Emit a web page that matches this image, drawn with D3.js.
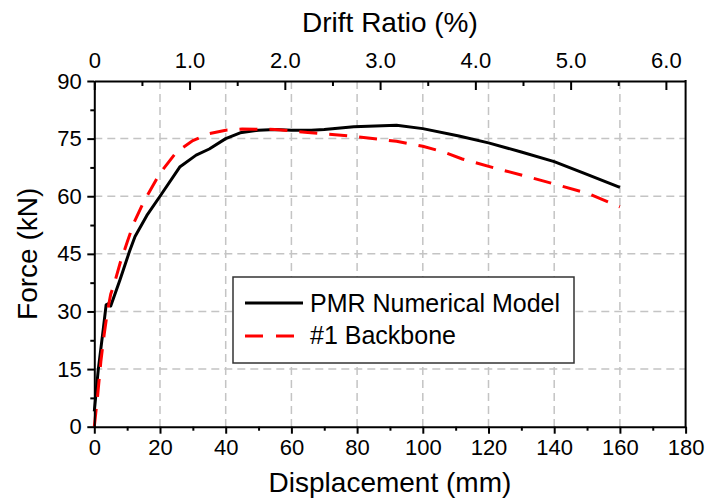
<!DOCTYPE html>
<html>
<head>
<meta charset="utf-8">
<script src="https://cdn.jsdelivr.net/npm/d3@7"></script>
<style>
  html, body { margin: 0; padding: 0; background: #fff; }
  svg { display: block; font-family: "Liberation Sans", Arial, sans-serif; }
</style>
</head>
<body>
<svg id="chart" width="709" height="500"></svg>
<script>
// ---- Data ----
const pmrDisp  = [0, 1.2, 2.7, 3.6, 4.5, 5.0, 7.8, 10.7, 12.4, 16, 20, 26, 31, 35, 40, 44.4, 50, 55, 60, 66, 70, 79, 92, 100, 111, 120, 130, 140, 149, 160];
const pmrForce = [4, 14.8, 25.2, 31.7, 32.1, 31.4, 38.2, 45.6, 49.5, 55, 60, 67.6, 70.7, 72.3, 75, 76.5, 77.2, 77.4, 77.2, 77.2, 77.4, 78.1, 78.5, 77.6, 75.7, 73.9, 71.5, 69, 66, 62.3];

const bbDisp  = [0, 1, 2, 3, 4, 5, 6, 8, 10, 12, 15, 20, 25, 30, 35, 40, 45, 55, 65, 80, 92, 100, 106, 112, 122, 131, 140, 150, 160];
const bbForce = [0, 8, 17, 24, 30, 34.5, 37, 43, 48, 53, 58.5, 66, 71.5, 74.5, 76.3, 77.2, 77.5, 77.4, 76.6, 75.5, 74.3, 73.0, 71.6, 69.7, 67.3, 65.3, 63.2, 60.8, 57.2];

const xTicks = [0, 20, 40, 60, 80, 100, 120, 140, 160, 180];
const xMinor = [10, 30, 50, 70, 90, 110, 130, 150, 170];
const yTicks = [0, 15, 30, 45, 60, 75, 90];
const yMinor = [7.5, 22.5, 37.5, 52.5, 67.5, 82.5];
const topTicks = [0, 1, 2, 3, 4, 5, 6];
const topMinor = [0.5, 1.5, 2.5, 3.5, 4.5, 5.5];
const topTickLabels = ["0", "1.0", "2.0", "3.0", "4.0", "5.0", "6.0"];
const xGrid = [20, 40, 60, 80, 100, 120, 140, 160];
const yGrid = [15, 30, 45, 60, 75];
const storyHeightMm = 2900; // drift ratio (%) = disp / H * 100

const seriesNames = ["PMR Numerical Model", "#1 Backbone"];

// ---- Layout ----
const L = 94.3, R = 685.6, T = 81, B = 426.7;
const svg = d3.select("#chart");

const x = d3.scaleLinear().domain([0, 180]).range([L, R]);
const y = d3.scaleLinear().domain([0, 90]).range([B, T]);
const xTop = d3.scaleLinear().domain([0, 180 / storyHeightMm * 100]).range([L, R]);

// ---- Grid ----
const grid = svg.append("g").attr("stroke", "#c4c4c4").attr("stroke-width", 1.5).attr("stroke-dasharray", "8,5");
grid.selectAll("line.v").data(xGrid).join("line")
  .attr("x1", d => x(d)).attr("x2", d => x(d)).attr("y1", T).attr("y2", B);
grid.selectAll("line.h").data(yGrid).join("line")
  .attr("y1", d => y(d)).attr("y2", d => y(d)).attr("x1", L).attr("x2", R);

// ---- Curves ----
const line = d3.line().x(d => x(d[0])).y(d => y(d[1]));
svg.append("path").datum(d3.zip(pmrDisp, pmrForce))
  .attr("d", line).attr("fill", "none").attr("stroke", "#000").attr("stroke-width", 3)
  .attr("stroke-linejoin", "round");
svg.append("path").datum(d3.zip(bbDisp, bbForce))
  .attr("d", line).attr("fill", "none").attr("stroke", "#ff0000").attr("stroke-width", 3)
  .attr("stroke-dasharray", "18,12");

// ---- Legend ----
const lg = svg.append("g");
lg.append("rect").attr("x", 233).attr("y", 277).attr("width", 341).attr("height", 86)
  .attr("fill", "#fff").attr("stroke", "#333").attr("stroke-width", 1.5);
lg.append("line").attr("x1", 245).attr("x2", 303).attr("y1", 303).attr("y2", 303)
  .attr("stroke", "#000").attr("stroke-width", 3);
lg.append("line").attr("x1", 245).attr("x2", 303).attr("y1", 336).attr("y2", 336)
  .attr("stroke", "#ff0000").attr("stroke-width", 3).attr("stroke-dasharray", "18,13");
lg.append("text").attr("x", 310).attr("y", 312).attr("font-size", 25).text(seriesNames[0]);
lg.append("text").attr("x", 310).attr("y", 344).attr("font-size", 25).text(seriesNames[1]);

// ---- Axes ----
function styleAxis(g) {
  g.select(".domain").attr("stroke-width", 2).attr("stroke", "#000");
  g.selectAll(".tick line").attr("stroke-width", 2).attr("stroke", "#000");
  g.selectAll("text").attr("font-size", 22).attr("fill", "#000").attr("font-family", "'Liberation Sans', Arial, sans-serif");
}

// bottom
const gb = svg.append("g").attr("transform", `translate(0,${B})`)
  .call(d3.axisBottom(x).tickValues(xTicks).tickSizeInner(7).tickSizeOuter(0).tickPadding(6).tickFormat(d3.format("d")));
styleAxis(gb);
svg.append("g").attr("transform", `translate(0,${B})`)
  .call(d3.axisBottom(x).tickValues(xMinor).tickSizeInner(4).tickSizeOuter(0).tickFormat(""))
  .call(g => { g.select(".domain").remove(); g.selectAll(".tick line").attr("stroke-width", 2); });

// left
const gl = svg.append("g").attr("transform", `translate(${L},0)`)
  .call(d3.axisLeft(y).tickValues(yTicks).tickSizeInner(7).tickSizeOuter(0).tickPadding(5.5).tickFormat(d3.format("d")));
styleAxis(gl);
svg.append("g").attr("transform", `translate(${L},0)`)
  .call(d3.axisLeft(y).tickValues(yMinor).tickSizeInner(4).tickSizeOuter(0).tickFormat(""))
  .call(g => { g.select(".domain").remove(); g.selectAll(".tick line").attr("stroke-width", 2); });

// top (ticks pointing inward)
const gt = svg.append("g").attr("transform", `translate(0,${T})`)
  .call(d3.axisTop(xTop).tickValues(topTicks).tickSizeInner(-9).tickSizeOuter(0).tickPadding(13)
    .tickFormat((d, i) => topTickLabels[i]));
styleAxis(gt);
svg.append("g").attr("transform", `translate(0,${T})`)
  .call(d3.axisTop(xTop).tickValues(topMinor).tickSizeInner(-5).tickSizeOuter(0).tickFormat(""))
  .call(g => { g.select(".domain").remove(); g.selectAll(".tick line").attr("stroke-width", 2); });

// right frame
svg.append("line").attr("x1", R).attr("x2", R).attr("y1", T - 1).attr("y2", B + 1)
  .attr("stroke", "#000").attr("stroke-width", 2);

// ---- Titles ----
svg.append("text").attr("x", (L + R) / 2).attr("y", 492).attr("text-anchor", "middle")
  .attr("font-size", 28).text("Displacement (mm)");
svg.append("text").attr("x", (L + R) / 2).attr("y", 32).attr("text-anchor", "middle")
  .attr("font-size", 28).text("Drift Ratio (%)");
svg.append("text").attr("transform", `translate(37,${(T + B) / 2}) rotate(-90)`)
  .attr("text-anchor", "middle").attr("font-size", 28).text("Force (kN)");
</script>
</body>
</html>
